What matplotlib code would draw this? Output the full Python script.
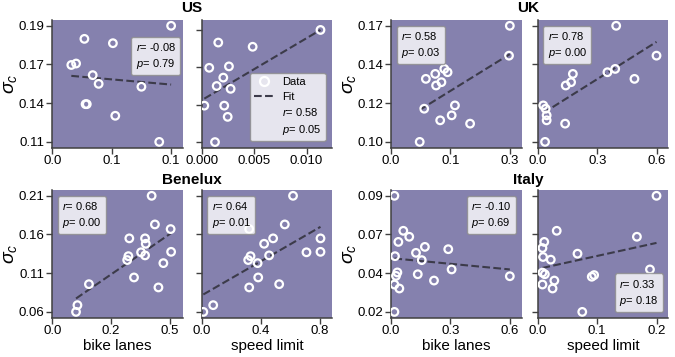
#scatter panels of sigma_c against bike lanes / speed limit for four regions
import numpy as np
import matplotlib.pyplot as plt
from matplotlib.lines import Line2D

plt.rcParams['font.family'] = ['Liberation Sans', 'DejaVu Sans']
plt.rcParams['mathtext.fontset'] = 'custom'
plt.rcParams['mathtext.it'] = 'Liberation Sans:italic'
plt.rcParams['mathtext.rm'] = 'Liberation Sans'

# ---- data ----
us_bike_x = [0.016, 0.020, 0.027, 0.051, 0.034, 0.039, 0.028, 0.029, 0.053, 0.075, 0.090, 0.100]
us_bike_y = [0.163, 0.164, 0.181, 0.178, 0.156, 0.150, 0.136, 0.136, 0.128, 0.148, 0.110, 0.190]
us_speed_x = [0.00072, 0.0026, 0.00158, 0.00486, 0.00206, 0.00143, 0.00025, 0.00215, 0.00248, 0.00276, 0.00127, 0.01133]
us_speed_y = [0.163, 0.164, 0.181, 0.178, 0.156, 0.150, 0.136, 0.136, 0.128, 0.148, 0.110, 0.190]

uk_bike_x = [0.070, 0.081, 0.085, 0.108, 0.110, 0.123, 0.130, 0.138, 0.120, 0.148, 0.156, 0.193, 0.290, 0.288]
uk_bike_y = [0.100, 0.120, 0.138, 0.141, 0.134, 0.136, 0.144, 0.142, 0.113, 0.116, 0.122, 0.111, 0.170, 0.152]
uk_speed_x = [0.037, 0.040, 0.487, 0.177, 0.141, 0.168, 0.390, 0.351, 0.045, 0.045, 0.028, 0.138, 0.395, 0.598]
uk_speed_y = [0.100, 0.120, 0.138, 0.141, 0.134, 0.136, 0.144, 0.142, 0.113, 0.116, 0.122, 0.111, 0.170, 0.152]

bn_bike_x = [0.423, 0.437, 0.328, 0.395, 0.398, 0.324, 0.319, 0.378, 0.395, 0.473, 0.348, 0.452, 0.156, 0.107, 0.101, 0.504, 0.506]
bn_bike_y = [0.210, 0.173, 0.155, 0.155, 0.148, 0.132, 0.127, 0.137, 0.133, 0.123, 0.1045, 0.0916, 0.0958, 0.0687, 0.060, 0.167, 0.1376]
bn_speed_x = [0.619, 0.563, 0.484, 0.805, 0.423, 0.331, 0.315, 0.710, 0.457, 0.379, 0.383, 0.322, 0.525, 0.078, 0.011, 0.322, 0.805]
bn_speed_y = [0.210, 0.173, 0.155, 0.155, 0.148, 0.132, 0.127, 0.137, 0.133, 0.123, 0.1045, 0.0916, 0.0958, 0.0687, 0.060, 0.167, 0.1376]

it_bike_x = [0.017, 0.062, 0.092, 0.037, 0.171, 0.126, 0.155, 0.020, 0.289, 0.306, 0.135, 0.032, 0.025, 0.217, 0.017, 0.042, 0.017, 0.600]
it_bike_y = [0.090, 0.0689, 0.0653, 0.0622, 0.0592, 0.0556, 0.0512, 0.0536, 0.0578, 0.0456, 0.0427, 0.0438, 0.0417, 0.0389, 0.0365, 0.0341, 0.020, 0.0415]
it_speed_x = [0.200, 0.032, 0.167, 0.011, 0.008, 0.009, 0.022, 0.067, 0.189, 0.008, 0.012, 0.095, 0.091, 0.028, 0.008, 0.025, 0.075]
it_speed_y = [0.090, 0.0689, 0.0653, 0.0622, 0.0585, 0.0531, 0.0515, 0.0551, 0.0456, 0.0437, 0.0427, 0.0422, 0.0412, 0.0389, 0.0365, 0.0341, 0.020]

# fitted line end values (at min x and max x of each panel)
us_bike_fit = [0.1555, 0.1495]
us_speed_fit = [0.141, 0.190]
uk_bike_fit = [0.1193, 0.1529]
uk_speed_fit = [0.1174, 0.1603]
bn_bike_fit = [0.0773, 0.1618]
bn_speed_fit = [0.0825, 0.1699]
it_bike_fit = [0.0522, 0.0456]
it_speed_fit = [0.0465, 0.0616]

# r and p values
us_bike_rp = ['-0.08', '0.79']
us_speed_rp = ['0.58', '0.05']
uk_bike_rp = ['0.58', '0.03']
uk_speed_rp = ['0.78', '0.00']
bn_bike_rp = ['0.68', '0.00']
bn_speed_rp = ['0.64', '0.01']
it_bike_rp = ['-0.10', '0.69']
it_speed_rp = ['0.33', '0.18']

# y tick ranges (lowest, highest tick) and labels
us_yr = [0.11, 0.19]
us_ylabels = ['0.11', '0.14', '0.17', '0.19']
uk_yr = [0.10, 0.17]
uk_ylabels = ['0.10', '0.12', '0.14', '0.17']
bn_yr = [0.06, 0.21]
bn_ylabels = ['0.06', '0.11', '0.16', '0.21']
it_yr = [0.02, 0.09]
it_ylabels = ['0.02', '0.04', '0.07', '0.09']

# x ticks and labels
us_bike_xt = [0, 0.05, 0.10]
us_bike_xl = ['0.0', '0.1', '0.1']
us_speed_xt = [0, 0.005, 0.010]
us_speed_xl = ['0.000', '0.005', '0.010']
uk_bike_xt = [0, 0.145, 0.29]
uk_bike_xl = ['0.0', '0.1', '0.3']
uk_speed_xt = [0, 0.3, 0.6]
uk_speed_xl = ['0.0', '0.3', '0.6']
bn_bike_xt = [0, 0.25, 0.5]
bn_bike_xl = ['0.0', '0.2', '0.5']
bn_speed_xt = [0, 0.4, 0.8]
bn_speed_xl = ['0.0', '0.4', '0.8']
it_bike_xt = [0, 0.3, 0.6]
it_bike_xl = ['0.0', '0.3', '0.6']
it_speed_xt = [0, 0.1, 0.2]
it_speed_xl = ['0.0', '0.1', '0.2']

BG = '#8581ae'
LINE = '#3c3b4a'
SPINE = '0.25'
FS_BOX = 8


def Panel(rect, x, y, fit, yr, xt, xl, ylabels=None, xlabel=None, ytop=None):
    ax = fig.add_axes(rect)
    ax.set_facecolor(BG)
    for s in ['top', 'right']:
        ax.spines[s].set_visible(False)
    for s in ['left', 'bottom']:
        ax.spines[s].set_color(SPINE)
        ax.spines[s].set_linewidth(1.1)
    x = np.array(x)
    ax.scatter(x, y, s=30, facecolors='none', edgecolors='white', linewidths=1.6, zorder=3)
    ax.plot([x.min(), x.max()], fit, ls='--', color=LINE, lw=1.5, zorder=2)
    rng = yr[1] - yr[0]
    top = yr[1] + 0.05 * rng if ytop is None else ytop
    ax.set_ylim(yr[0] - 0.05 * rng, top)
    ax.set_xlim(0, 1.1 * x.max())
    ax.set_yticks(np.linspace(yr[0], yr[1], 4))
    if ylabels is None:
        ax.set_yticklabels([])
    else:
        ax.set_yticklabels(ylabels)
        ax.set_ylabel('$\\sigma_c$', fontsize=14, labelpad=0)
    ax.set_xticks(xt)
    ax.set_xticklabels(xl)
    if xlabel:
        ax.set_xlabel(xlabel, fontsize=11, labelpad=1)
    ax.tick_params(length=4, width=1, color=SPINE, labelsize=9.5, pad=1.5)
    return ax


def RPBox(ax, rp, loc, anchor=None, pad=0.5):
    h = [Line2D([], [], ls='none'), Line2D([], [], ls='none')]
    lab = ['$r$= ' + rp[0], '$p$= ' + rp[1]]
    kw = {}
    if anchor is not None:
        kw['bbox_to_anchor'] = anchor
    leg = ax.legend(h, lab, loc=loc, handlelength=0, handletextpad=0, fontsize=FS_BOX,
                    borderpad=0.4, labelspacing=0.35, framealpha=0.8, edgecolor='0.55',
                    borderaxespad=pad, **kw)
    leg.set_zorder(5)


fig = plt.figure(figsize=(6.75, 3.57), dpi=100)

lefts = [0.0775, 0.2988, 0.5793, 0.7966]
w = 0.1936
h = 0.3577
btop = 0.5863
bbot = 0.1101

ax1 = Panel([lefts[0], btop, w, h], us_bike_x, us_bike_y, us_bike_fit, us_yr, us_bike_xt, us_bike_xl, us_ylabels)
RPBox(ax1, us_bike_rp, 'upper right', (0.98, 0.87), pad=0)
ax2 = Panel([lefts[1], btop, w, h], us_speed_x, us_speed_y, us_speed_fit, us_yr, us_speed_xt, us_speed_xl, ytop=0.1971)
hd = [Line2D([], [], marker='o', ls='none', mfc='none', mec='white', mew=1.6, ms=6.5),
      Line2D([], [], ls='--', color=LINE, lw=1.5),
      Line2D([], [], ls='none'), Line2D([], [], ls='none')]
lg = ax2.legend(hd, ['Data', 'Fit', '$r$= ' + us_speed_rp[0], '$p$= ' + us_speed_rp[1]],
                loc='lower right', fontsize=FS_BOX, handlelength=1.7, framealpha=0.8,
                edgecolor='0.55', borderpad=0.4, labelspacing=0.4, borderaxespad=0.6)
lg.set_zorder(5)

ax3 = Panel([lefts[2], btop, w, h], uk_bike_x, uk_bike_y, uk_bike_fit, uk_yr, uk_bike_xt, uk_bike_xl, uk_ylabels)
RPBox(ax3, uk_bike_rp, 'upper left')
ax4 = Panel([lefts[3], btop, w, h], uk_speed_x, uk_speed_y, uk_speed_fit, uk_yr, uk_speed_xt, uk_speed_xl)
RPBox(ax4, uk_speed_rp, 'upper left')

ax5 = Panel([lefts[0], bbot, w, h], bn_bike_x, bn_bike_y, bn_bike_fit, bn_yr, bn_bike_xt, bn_bike_xl, bn_ylabels, 'bike lanes')
RPBox(ax5, bn_bike_rp, 'upper left')
ax6 = Panel([lefts[1], bbot, w, h], bn_speed_x, bn_speed_y, bn_speed_fit, bn_yr, bn_speed_xt, bn_speed_xl, None, 'speed limit')
RPBox(ax6, bn_speed_rp, 'upper left')

ax7 = Panel([lefts[2], bbot, w, h], it_bike_x, it_bike_y, it_bike_fit, it_yr, it_bike_xt, it_bike_xl, it_ylabels, 'bike lanes')
RPBox(ax7, it_bike_rp, 'upper right')
ax8 = Panel([lefts[3], bbot, w, h], it_speed_x, it_speed_y, it_speed_fit, it_yr, it_speed_xt, it_speed_xl, None, 'speed limit')
RPBox(ax8, it_speed_rp, 'lower right')

for name, xx, yy in [('US', 0.2844, 0.978), ('UK', 0.7822, 0.978),
                     ('Benelux', 0.2844, 0.496), ('Italy', 0.7822, 0.496)]:
    fig.text(xx, yy, name, ha='center', va='center', fontsize=11, fontweight='bold')

fig.savefig('out.png', dpi=100)
plt.close()
